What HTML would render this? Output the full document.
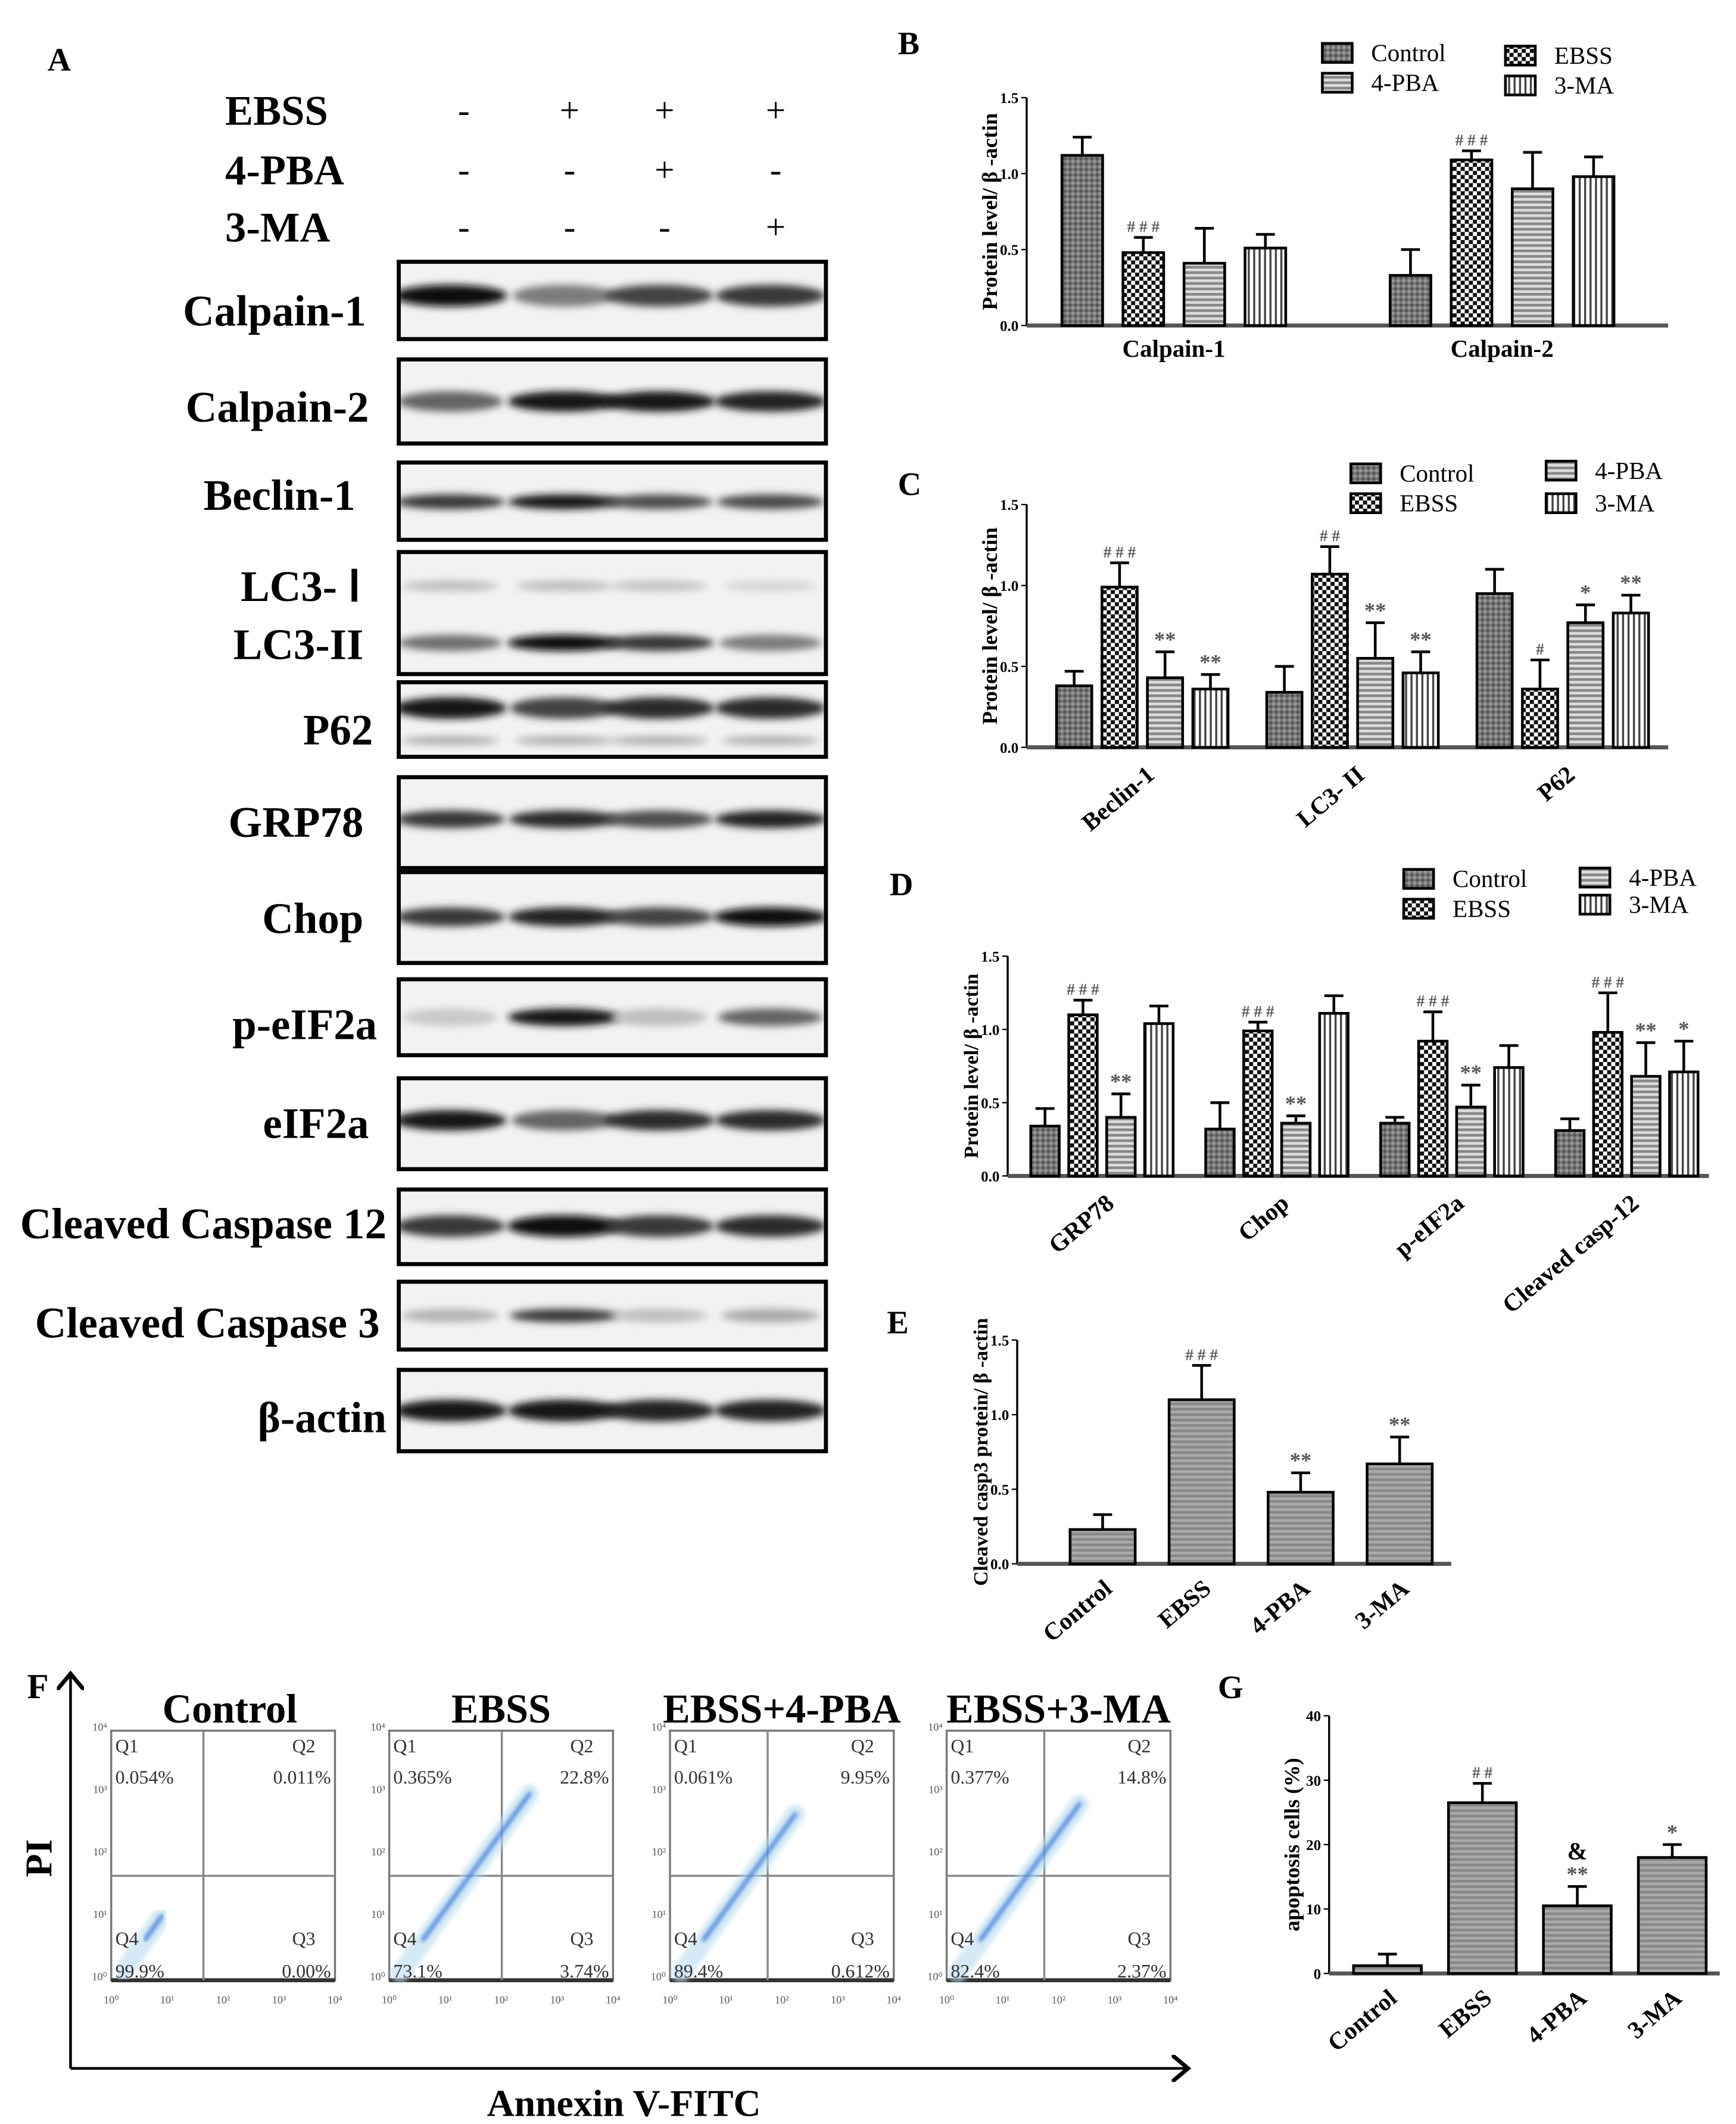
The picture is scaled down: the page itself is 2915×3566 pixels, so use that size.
<!DOCTYPE html>
<html><head><meta charset="utf-8"><style>
html,body{margin:0;padding:0;background:#fff;}
svg{display:block;}
text{font-family:"Liberation Serif",serif;}
</style></head><body>
<svg id="fig" width="2915" height="3566" viewBox="0 0 1280 1566" preserveAspectRatio="none" xmlns="http://www.w3.org/2000/svg">
<defs>
<pattern id="pCtrl" width="4" height="4" patternUnits="userSpaceOnUse"><rect width="4" height="4" fill="#777"/><rect width="2" height="2" fill="#555"/><rect x="2" y="2" width="2" height="2" fill="#999"/></pattern>
<pattern id="pEbss" width="6" height="6" patternUnits="userSpaceOnUse"><rect width="6" height="6" fill="#fff"/><rect width="3" height="3" fill="#111"/><rect x="3" y="3" width="3" height="3" fill="#111"/></pattern>
<pattern id="pPba" width="4" height="4" patternUnits="userSpaceOnUse"><rect width="4" height="4" fill="#ddd"/><rect width="4" height="2" fill="#888"/></pattern>
<pattern id="pMa" width="4" height="4" patternUnits="userSpaceOnUse"><rect width="4" height="4" fill="#fff"/><rect width="1.5" height="4" fill="#444"/></pattern>
<pattern id="pGrey" width="4" height="4" patternUnits="userSpaceOnUse"><rect width="4" height="4" fill="#888"/><rect width="4" height="2" fill="#aaa"/></pattern>
<filter id="blur" x="-30%" y="-80%" width="160%" height="260%"><feGaussianBlur stdDeviation="2.8"/></filter>
<filter id="blur2"><feGaussianBlur stdDeviation="1.5"/></filter>
<marker id="arr" markerWidth="10" markerHeight="10" refX="5" refY="5" orient="auto"><path d="M0,0 L6,5 L0,10" fill="none" stroke="#000" stroke-width="1.5"/></marker>
</defs>
<g id="panelA"></g>
<g id="charts"></g>
<g id="panelF"></g>
</svg>
<script>
// ---------- data ----------
const groupsB = ["Calpain-1","Calpain-2"];
const ctrlB = [1.12,0.33], ebssB=[0.48,1.09], pbaB=[0.41,0.90], maB=[0.51,0.98];
const ctrlBe=[0.12,0.17], ebssBe=[0.10,0.06], pbaBe=[0.23,0.24], maBe=[0.09,0.13];
const annB = [["","# # #","",""],["","# # #","",""]];

const groupsC = ["Beclin-1","LC3- II","P62"];
const ctrlC=[0.38,0.34,0.95], ebssC=[0.99,1.07,0.36], pbaC=[0.43,0.55,0.77], maC=[0.36,0.46,0.83];
const ctrlCe=[0.09,0.16,0.15], ebssCe=[0.15,0.17,0.18], pbaCe=[0.16,0.22,0.11], maCe=[0.09,0.13,0.11];
const annC=[["","# # #","**","**"],["","# #","**","**"],["","#","*","**"]];

const groupsD=["GRP78","Chop","p-eIF2a","Cleaved casp-12"];
const ctrlD=[0.34,0.32,0.36,0.31], ebssD=[1.10,0.99,0.92,0.98], pbaD=[0.40,0.36,0.47,0.68], maD=[1.04,1.11,0.74,0.71];
const ctrlDe=[0.12,0.18,0.04,0.08], ebssDe=[0.10,0.06,0.20,0.27], pbaDe=[0.16,0.05,0.15,0.23], maDe=[0.12,0.12,0.15,0.21];
const annD=[["","# # #","**",""],["","# # #","**",""],["","# # #","**",""],["","# # #","**","*"]];

const catsE=["Control","EBSS","4-PBA","3-MA"];
const valsE=[0.23,1.10,0.48,0.67];
const errE=[0.10,0.23,0.13,0.18];
const annE=["","# # #","**","**"];

const catsG=["Control","EBSS","4-PBA","3-MA"];
const valsG=[1.2,26.5,10.5,18.0];
const errG=[1.8,3.0,3.0,2.0];
const annG=["","# #","**","*"];

const ticks15=["0.0","0.5","1.0","1.5"];
const ticks40=["0","10","20","30","40"];

// ---------- helpers ----------
const NS="http://www.w3.org/2000/svg";
function mk(tag,attrs,parent,txt){const e=document.createElementNS(NS,tag);for(const k in attrs)e.setAttribute(k,attrs[k]);if(txt!==undefined)e.textContent=txt;(parent||document.getElementById('fig')).appendChild(e);return e;}
const fills=["url(#pCtrl)","url(#pEbss)","url(#pPba)","url(#pMa)"];

function axis(g,x0,x1,yTop,yBot,max,ticks,title,tfs){
  const ys=v=>yBot-(v/max)*(yBot-yTop);
  const ax=mk('line',{x1:x0,y1:yTop,x2:x0,y2:yBot,stroke:'#000','stroke-width':1.5},g);
  
  const bx=mk('line',{x1:x0,y1:yBot,x2:x1,y2:yBot,stroke:'#555','stroke-width':3},g);
  
  ticks.forEach((t,i)=>{const v=max*i/(ticks.length-1);
    mk('line',{x1:x0-4,y1:ys(v),x2:x0,y2:ys(v),stroke:'#000'},g);
    const tt=mk('text',{x:x0-6,y:ys(v)+4,'text-anchor':'end','font-size':11,'font-weight':'bold'},g,t);
    });
  const cy=(yTop+yBot)/2;
  const yt=mk('text',{x:x0-22,y:cy,transform:`rotate(-90 ${x0-22} ${cy})`,'text-anchor':'middle','font-size':tfs||15,'font-weight':'bold'},g,title);
  
  return ys;
}
function bar(g,x,w,v,e,ys,fill,ann,name){
  const y=ys(v), y0=ys(0);
  mk('line',{x1:x+w/2,y1:y,x2:x+w/2,y2:ys(v+e),stroke:'#000','stroke-width':2},g);
  mk('line',{x1:x+w/2-7,y1:ys(v+e),x2:x+w/2+7,y2:ys(v+e),stroke:'#000','stroke-width':2},g);
  const r=mk('rect',{x:x,y:y,width:w,height:y0-y,fill:fill,stroke:'#000','stroke-width':2},g);
  
  if(ann){const a=mk('text',{x:x+w/2,y:ys(v+e)-4,'text-anchor':'middle','font-size':ann.indexOf('#')>=0?12:16,'font-weight':'bold',fill:'#555'},g,ann);
    }
}
function legend(g,items){items.forEach(it=>{
  const r=mk('rect',{x:it[0],y:it[1]-10,width:22,height:14,fill:fills[it[3]],stroke:'#000','stroke-width':2},g);
  
  const t=mk('text',{x:it[0]+36,y:it[1]+3,'font-size':18},g,it[2]);
  });}
function groupChart(cfg){
  const g=mk('g',{},document.getElementById('charts'));
  
  const L=mk('text',{x:cfg.lx,y:cfg.ly,'font-size':24,'font-weight':'bold'},g,cfg.label);
  
  const ys=axis(g,cfg.x0,cfg.x1,cfg.yTop,cfg.yBot,1.5,ticks15,"Protein level/ β -actin",cfg.tfs);
  cfg.groups.forEach((gn,i)=>{
    const ser=[cfg.s[0][i],cfg.s[1][i],cfg.s[2][i],cfg.s[3][i]];
    const er=[cfg.e[0][i],cfg.e[1][i],cfg.e[2][i],cfg.e[3][i]];
    const gx=cfg.gStart+i*cfg.gStep;
    ser.forEach((v,j)=>bar(g,gx+j*cfg.bStep,cfg.bw,v,er[j],ys,fills[j],cfg.ann[i][j],'bar-'+gn.toLowerCase().replace(/[^a-z0-9]+/g,'-')+'-'+j));
    const cx=gx+(3*cfg.bStep+cfg.bw)/2;
    let t;
    if(cfg.rot){t=mk('text',{x:cx+10,y:cfg.yBot+22,transform:`rotate(-40 ${cx+10} ${cfg.yBot+22})`,'text-anchor':'end','font-size':18,'font-weight':'bold'},g,gn);}
    else t=mk('text',{x:cx,y:cfg.yBot+23,'text-anchor':'middle','font-size':18,'font-weight':'bold'},g,gn);
    
  });
  legend(g,cfg.legend);
}
groupChart({name:'panel-b-calpain-chart',label:'B',lx:662,ly:40,x0:757,x1:1230,yTop:72,yBot:240,groups:groupsB,
  s:[ctrlB,ebssB,pbaB,maB],e:[ctrlBe,ebssBe,pbaBe,maBe],ann:annB,gStart:783,gStep:242,bStep:45,bw:30,rot:false,tfs:16,
  legend:[[975,42,'Control',0],[975,64,'4-PBA',2],[1110,44,'EBSS',1],[1110,66,'3-MA',3]]});
groupChart({name:'panel-c-autophagy-chart',label:'C',lx:662,ly:365,x0:757,x1:1230,yTop:372,yBot:551,groups:groupsC,
  s:[ctrlC,ebssC,pbaC,maC],e:[ctrlCe,ebssCe,pbaCe,maCe],ann:annC,gStart:779,gStep:155,bStep:33.5,bw:26,rot:true,tfs:16,
  legend:[[996,352,'Control',0],[996,374,'EBSS',1],[1140,350,'4-PBA',2],[1140,374,'3-MA',3]]});
groupChart({name:'panel-d-er-stress-chart',label:'D',lx:656,ly:660,x0:743,x1:1260,yTop:705,yBot:867,groups:groupsD,
  s:[ctrlD,ebssD,pbaD,maD],e:[ctrlDe,ebssDe,pbaDe,maDe],ann:annD,gStart:760,gStep:129,bStep:28,bw:21,rot:true,tfs:15,
  legend:[[1035,651,'Control',0],[1035,673,'EBSS',1],[1165,650,'4-PBA',2],[1165,670,'3-MA',3]]});

function simpleChart(cfg){
  const g=mk('g',{},document.getElementById('charts'));
  
  const L=mk('text',{x:cfg.lx,y:cfg.ly,'font-size':24,'font-weight':'bold'},g,cfg.label);
  
  const ys=axis(g,cfg.x0,cfg.x1,cfg.yTop,cfg.yBot,cfg.max,cfg.ticks,cfg.title,cfg.tfs);
  cfg.cats.forEach((c,i)=>{const x=cfg.start+i*cfg.step;
    bar(g,x,cfg.bw,cfg.vals[i],cfg.err[i],ys,'url(#pGrey)',cfg.ann[i],'bar-'+c.toLowerCase());
    const cx=x+cfg.bw/2+8;
    const t=mk('text',{x:cx,y:cfg.yBot+20,transform:`rotate(-40 ${cx} ${cfg.yBot+20})`,'text-anchor':'end','font-size':18,'font-weight':'bold'},g,c);
    });
  return {g,ys};
}
simpleChart({name:'panel-e-caspase3-chart',label:'E',lx:654,ly:983,x0:750,x1:1070,yTop:988,yBot:1153,max:1.5,ticks:ticks15,
  title:'Cleaved casp3 protein/ β -actin',tfs:15,cats:catsE,vals:valsE,err:errE,ann:annE,start:789,step:73,bw:48});
const G=simpleChart({name:'panel-g-apoptosis-chart',label:'G',lx:898,ly:1252,x0:980,x1:1268,yTop:1265,yBot:1455,max:40,ticks:ticks40,
  title:'apoptosis cells  (%)',tfs:16,cats:catsG,vals:valsG,err:errG,ann:annG,start:998,step:70,bw:50});
const amp=mk('text',{x:1163,y:G.ys(valsG[2]+errG[2])-20,'text-anchor':'middle','font-size':18,'font-weight':'bold'},G.g,'&');


// ---------- Panel A ----------
const A=document.getElementById('panelA');
mk('text',{x:35,y:52,'font-size':24,'font-weight':'bold'},A,'A');
const lanes=[342,420,490,572];
const treat=[["EBSS",82,["-","+","+","+"]],["4-PBA",126,["-","-","+","-"]],["3-MA",168,["-","-","-","+"]]];
treat.forEach(t=>{const l=mk('text',{x:166,y:t[1]+10,'font-size':31,'font-weight':'bold'},A,t[0]);
  
  t[2].forEach((s,i)=>mk('text',{x:lanes[i],y:t[1]+8,'text-anchor':'middle','font-size':26,'font-family':'Liberation Sans'},A,s));});
const blots=[
 ["Calpain-1",193,250,240,270,[[218,[1,0.5,0.75,0.8],16]]],
 ["Calpain-2",265,327,311,272,[[296,[0.6,0.95,0.95,0.9],15]]],
 ["Beclin-1",341,398,376,262,[[370,[0.8,0.95,0.7,0.72],11]]],
 ["LC3",407,497,0,0,[[432,[0.2,0.2,0.18,0.1],8],[474,[0.55,1,0.8,0.5],12]]],
 ["P62",503,558,549,275,[[522,[0.95,0.75,0.85,0.85],16],[546,[0.3,0.3,0.3,0.3],6]]],
 ["GRP78",573,640,617,268,[[604,[0.8,0.85,0.7,0.9],13]]],
 ["Chop",643,710,688,268,[[676,[0.8,0.9,0.75,1],14]]],
 ["p-eIF2a",722,778,766,278,[[750,[0.15,0.95,0.2,0.6],13]]],
 ["eIF2a",795,862,839,272,[[826,[0.95,0.6,0.85,0.85],15]]],
 ["Cleaved Caspase 12",877,932,913,285,[[904,[0.8,1,0.8,0.85],16]]],
 ["Cleaved Caspase 3",945,995,986,280,[[970,[0.25,0.8,0.2,0.3],10]]],
 ["β-actin",1010,1070,1056,285,[[1040,[0.95,0.95,0.9,0.9],16]]]
];
blots.forEach((b,k)=>{
  const g=mk('g',{},A);
  const cp=mk('clipPath',{id:'clip'+k},g);mk('rect',{x:294,y:b[1],width:315,height:b[2]-b[1]},cp);
  mk('rect',{x:294,y:b[1],width:315,height:b[2]-b[1],fill:'#f2f2f2'},g);
  const bg=mk('g',{'clip-path':`url(#clip${k})`},g);
  b[5].forEach(r=>r[1].forEach((it,i)=>{const c=Math.round(235-it*225);
    mk('ellipse',{cx:lanes[i]-4+(i==0?-6:0),cy:r[0],rx:34+it*8,ry:r[2]/2,fill:`rgb(${c},${c},${c})`,filter:'url(#blur)'},bg);}));
  mk('rect',{x:294,y:b[1],width:315,height:b[2]-b[1],fill:'none',stroke:'#000','stroke-width':3},g);
  if(b[3]){const l=mk('text',{x:b[4],y:b[3],'text-anchor':'end','font-size':32,'font-weight':'bold'},g,b[0]);
    }
});
mk('text',{x:266,y:443,'text-anchor':'end','font-size':32,'font-weight':'bold'},A,'LC3- Ⅰ');
mk('text',{x:268,y:486,'text-anchor':'end','font-size':32,'font-weight':'bold'},A,'LC3-II');

// ---------- Panel F ----------
const F=document.getElementById('panelF');
mk('text',{x:20,y:1252,'font-size':26,'font-weight':'bold'},F,'F');
mk('line',{x1:52,y1:1525,x2:52,y2:1236,stroke:'#000','stroke-width':2,'marker-end':'url(#arr)'},F);
mk('line',{x1:52,y1:1525,x2:874,y2:1525,stroke:'#000','stroke-width':2,'marker-end':'url(#arr)'},F);
mk('text',{x:38,y:1370,transform:'rotate(-90 38 1370)','text-anchor':'middle','font-size':28,'font-weight':'bold'},F,'PI');
mk('text',{x:460,y:1560,'text-anchor':'middle','font-size':28,'font-weight':'bold'},F,'Annexin V-FITC');
const flows=[["Control",82,150,["0.054%","0.011%","99.9%","0.00%"],0.25],
 ["EBSS",287,370,["0.365%","22.8%","73.1%","3.74%"],0.85],
 ["EBSS+4-PBA",494,566,["0.061%","9.95%","89.4%","0.612%"],0.75],
 ["EBSS+3-MA",698,770,["0.377%","14.8%","82.4%","2.37%"],0.8]];
flows.forEach(f=>{const x=f[1],w=165,top=1276,bot=1460,hy=1383;
  const g=mk('g',{},F);
  const t=mk('text',{x:x+w/2+(f[0]=="Control"?5:0),y:1270,'text-anchor':'middle','font-size':30,'font-weight':'bold'},g,f[0]);
  
  mk('rect',{x:x,y:top,width:w,height:bot-top,fill:'#fff',stroke:'#777','stroke-width':1.5},g);
  mk('line',{x1:x,y1:bot,x2:x+w,y2:bot,stroke:'#333','stroke-width':3},g);
  mk('line',{x1:f[2],y1:top,x2:f[2],y2:bot,stroke:'#888','stroke-width':1.5},g);
  mk('line',{x1:x,y1:hy,x2:x+w,y2:hy,stroke:'#888','stroke-width':1.5},g);
  const L=f[4];const ex=x+10+L*110, ey=bot-10-L*150;
  mk('line',{x1:x+8,y1:bot-5,x2:ex,y2:ey,stroke:'#b8dcef','stroke-width':14,'stroke-linecap':'round',filter:'url(#blur2)',opacity:0.6},g);
  mk('line',{x1:x+25,y1:bot-30,x2:ex,y2:ey,stroke:'#2a6fd6','stroke-width':3,'stroke-linecap':'round',filter:'url(#blur2)',opacity:0.8},g);
  ['Q1','Q2','Q4','Q3'].forEach((q,i)=>{const qx=i%2?x+w-3:x+3,anc=i%2?'end':'start',qy=i<2?top+16:bot-26;
    mk('text',{x:i%2?qx-20:qx,y:qy,'text-anchor':i%2?'middle':'start','font-size':14,'font-family':'Liberation Sans',fill:'#333'},g,q);
    mk('text',{x:qx,y:qy+(i<2?23:24),'text-anchor':anc,'font-size':14,'font-family':'Liberation Sans',fill:'#333'},g,f[3][i]);});
  ['10⁰','10¹','10²','10³','10⁴'].forEach((s,i)=>{mk('text',{x:x+i*w/4,y:bot+17,'text-anchor':'middle','font-size':8,fill:'#555'},g,s);
    mk('text',{x:x-3,y:bot-i*(bot-top)/4,'text-anchor':'end','font-size':8,fill:'#555'},g,s);});
});
</script>
</body></html>
